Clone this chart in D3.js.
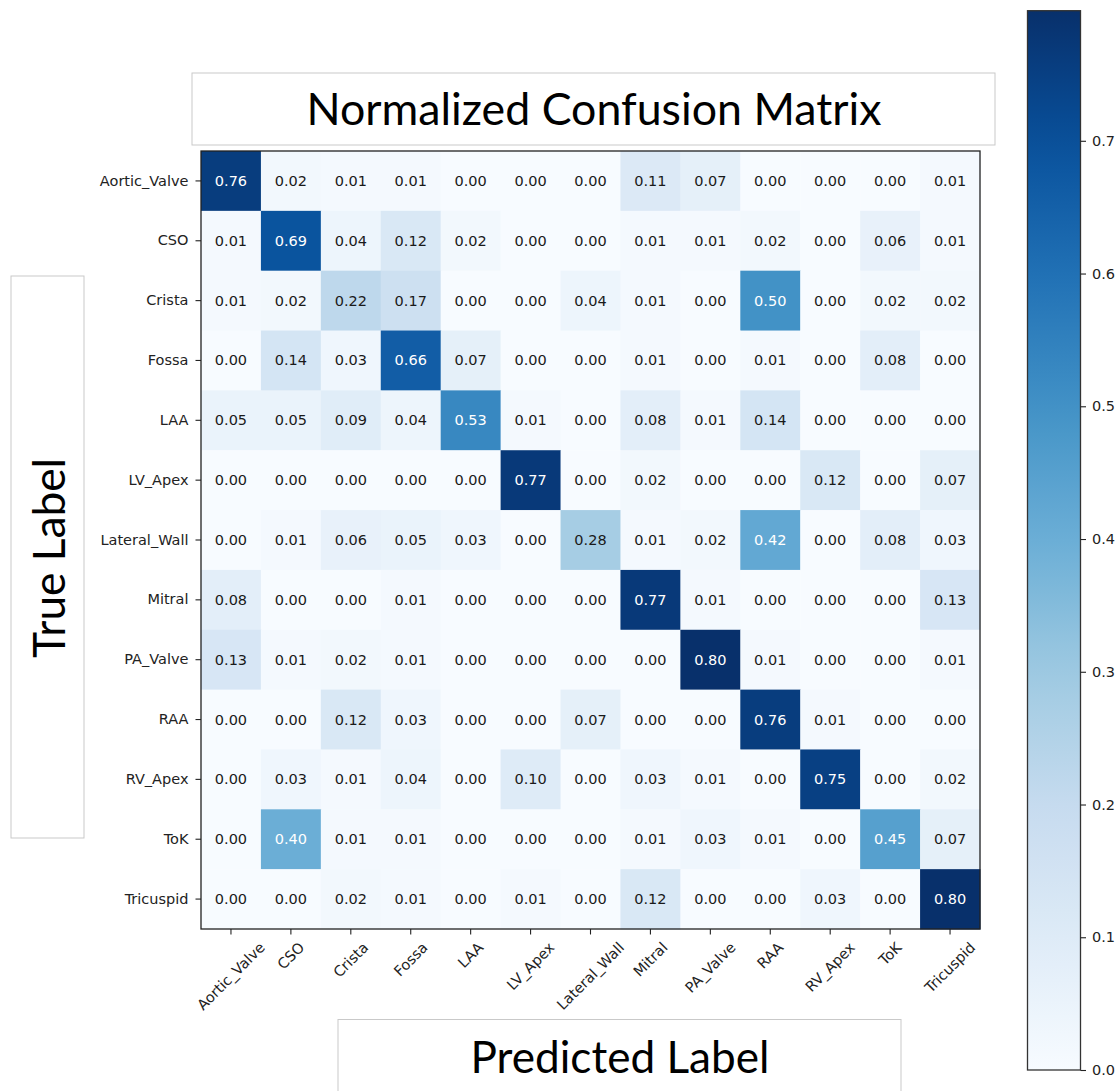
<!DOCTYPE html>
<html>
<head>
<meta charset="utf-8">
<script src="https://cdn.jsdelivr.net/npm/d3@7"></script>
<style>
  html, body { margin: 0; padding: 0; background: #fff; }
  svg { display: block; }
</style>
</head>
<body>
<svg id="chart" width="1119" height="1091"></svg>
<script>
// ---------------- data ----------------
const classes = ["Aortic_Valve","CSO","Crista","Fossa","LAA","LV_Apex","Lateral_Wall","Mitral","PA_Valve","RAA","RV_Apex","ToK","Tricuspid"];
const rowAorticValve = [0.76,0.02,0.01,0.01,0.00,0.00,0.00,0.11,0.07,0.00,0.00,0.00,0.01];
const rowCSO         = [0.01,0.69,0.04,0.12,0.02,0.00,0.00,0.01,0.01,0.02,0.00,0.06,0.01];
const rowCrista      = [0.01,0.02,0.22,0.17,0.00,0.00,0.04,0.01,0.00,0.50,0.00,0.02,0.02];
const rowFossa       = [0.00,0.14,0.03,0.66,0.07,0.00,0.00,0.01,0.00,0.01,0.00,0.08,0.00];
const rowLAA         = [0.05,0.05,0.09,0.04,0.53,0.01,0.00,0.08,0.01,0.14,0.00,0.00,0.00];
const rowLVApex      = [0.00,0.00,0.00,0.00,0.00,0.77,0.00,0.02,0.00,0.00,0.12,0.00,0.07];
const rowLateralWall = [0.00,0.01,0.06,0.05,0.03,0.00,0.28,0.01,0.02,0.42,0.00,0.08,0.03];
const rowMitral      = [0.08,0.00,0.00,0.01,0.00,0.00,0.00,0.77,0.01,0.00,0.00,0.00,0.13];
const rowPAValve     = [0.13,0.01,0.02,0.01,0.00,0.00,0.00,0.00,0.80,0.01,0.00,0.00,0.01];
const rowRAA         = [0.00,0.00,0.12,0.03,0.00,0.00,0.07,0.00,0.00,0.76,0.01,0.00,0.00];
const rowRVApex      = [0.00,0.03,0.01,0.04,0.00,0.10,0.00,0.03,0.01,0.00,0.75,0.00,0.02];
const rowToK         = [0.00,0.40,0.01,0.01,0.00,0.00,0.00,0.01,0.03,0.01,0.00,0.45,0.07];
const rowTricuspid   = [0.00,0.00,0.02,0.01,0.00,0.01,0.00,0.12,0.00,0.00,0.03,0.00,0.80];
const matrixRows = [rowAorticValve,rowCSO,rowCrista,rowFossa,rowLAA,rowLVApex,rowLateralWall,rowMitral,rowPAValve,rowRAA,rowRVApex,rowToK,rowTricuspid];
const colorbarTicks = [0.0,0.1,0.2,0.3,0.4,0.5,0.6,0.7];
const colorMax = 0.798;
const titleText = "Normalized Confusion Matrix";
const xLabelText = "Predicted Label";
const yLabelText = "True Label";

// ---------------- setup ----------------
const svg = d3.select("#chart");
const tickFont = "'DejaVu Sans', sans-serif";
const bigFont = "Lato, 'Open Sans', sans-serif";
const fs = 14.5;

const x = d3.scaleBand().domain(classes).range([201, 980]);
const y = d3.scaleBand().domain(classes).range([151, 929]);

// matplotlib "Blues" (linear segmented from ColorBrewer 9-class)
const bluesStops = ["#f7fbff","#deebf7","#c6dbef","#9ecae1","#6baed6","#4292c6","#2171b5","#08519c","#08306b"];
const color = d3.scaleLinear()
  .domain(bluesStops.map((_, i) => colorMax * i / (bluesStops.length - 1)))
  .range(bluesStops)
  .interpolate(d3.interpolateRgb)
  .clamp(true);

const cells = [];
matrixRows.forEach((row, i) => row.forEach((v, j) => cells.push({r: classes[i], c: classes[j], v})));

// ---------------- label boxes ----------------
const boxStroke = "#c9c9c9";
svg.append("rect").attr("x", 192).attr("y", 73).attr("width", 803).attr("height", 72)
  .attr("fill", "#fff").attr("stroke", boxStroke).attr("stroke-width", 1);
svg.append("text").attr("x", 594).attr("y", 125).attr("text-anchor", "middle")
  .attr("font-family", bigFont).attr("font-size", 44).attr("fill", "#000")
  .attr("textLength", 575).attr("lengthAdjust", "spacingAndGlyphs").text(titleText);

svg.append("rect").attr("x", 338).attr("y", 1019.5).attr("width", 563).attr("height", 90)
  .attr("fill", "#fff").attr("stroke", boxStroke).attr("stroke-width", 1);
svg.append("text").attr("x", 620).attr("y", 1073).attr("text-anchor", "middle")
  .attr("font-family", bigFont).attr("font-size", 44).attr("fill", "#000")
  .attr("textLength", 299).attr("lengthAdjust", "spacingAndGlyphs").text(xLabelText);

svg.append("rect").attr("x", 11).attr("y", 276).attr("width", 73).attr("height", 562)
  .attr("fill", "#fff").attr("stroke", boxStroke).attr("stroke-width", 1);
svg.append("text").attr("transform", "translate(65,558) rotate(-90)").attr("text-anchor", "middle")
  .attr("font-family", bigFont).attr("font-size", 44).attr("fill", "#000")
  .attr("textLength", 200).attr("lengthAdjust", "spacingAndGlyphs").text(yLabelText);

// ---------------- heatmap ----------------
const g = svg.append("g");
g.selectAll("rect.cell").data(cells).join("rect").attr("class", "cell")
  .attr("x", d => x(d.c)).attr("y", d => y(d.r))
  .attr("width", x.bandwidth() + 0.5).attr("height", y.bandwidth() + 0.5)
  .attr("fill", d => color(d.v));

g.selectAll("text.val").data(cells).join("text").attr("class", "val")
  .attr("x", d => x(d.c) + x.bandwidth() / 2)
  .attr("y", d => y(d.r) + y.bandwidth() / 2)
  .attr("text-anchor", "middle").attr("dominant-baseline", "central")
  .attr("font-family", tickFont).attr("font-size", fs)
  .attr("fill", d => d.v > colorMax / 2 ? "#ffffff" : "#1a1a1a")
  .text(d => d.v.toFixed(2));

// frame
svg.append("rect").attr("x", 201).attr("y", 151).attr("width", 779).attr("height", 778)
  .attr("fill", "none").attr("stroke", "#222").attr("stroke-width", 1.3);

// y axis
const yAx = svg.append("g").attr("transform", "translate(201,0)")
  .call(d3.axisLeft(y).tickSize(5.5).tickPadding(7));
yAx.select(".domain").remove();
yAx.selectAll("line").attr("stroke", "#222").attr("stroke-width", 1.1);
yAx.selectAll("text").attr("font-family", tickFont).attr("font-size", fs).attr("fill", "#222");

// x axis
const xAx = svg.append("g").attr("transform", "translate(0,929)")
  .call(d3.axisBottom(x).tickSize(5.5).tickPadding(0));
xAx.select(".domain").remove();
xAx.selectAll("line").attr("stroke", "#222").attr("stroke-width", 1.1);
xAx.selectAll("text")
  .attr("font-family", tickFont).attr("font-size", fs).attr("fill", "#222")
  .attr("text-anchor", "middle").attr("dominant-baseline", "central")
  .attr("dy", null).attr("y", null)
  .each(function() {
    const w = this.getComputedTextLength();
    const side = (w + fs * 1.15) * Math.SQRT1_2;
    const cy = 10 + side / 2;
    d3.select(this).attr("transform", `translate(0,${cy}) rotate(-45)`);
  });

// ---------------- colorbar ----------------
const cbX = 1027.5, cbW = 53;
const cy = d3.scaleLinear().domain([0, colorMax]).range([1070, 10.7]);
const defs = svg.append("defs");
const grad = defs.append("linearGradient").attr("id", "cbgrad")
  .attr("x1", 0).attr("y1", 1).attr("x2", 0).attr("y2", 0);
d3.range(0, 1.0001, 0.05).forEach(t => {
  grad.append("stop").attr("offset", t).attr("stop-color", color(t * colorMax));
});
svg.append("rect").attr("x", cbX).attr("y", cy(colorMax)).attr("width", cbW)
  .attr("height", cy(0) - cy(colorMax)).attr("fill", "url(#cbgrad)")
  .attr("stroke", "#333").attr("stroke-width", 1.3);

const cAx = svg.append("g").attr("transform", `translate(${cbX + cbW},0)`)
  .call(d3.axisRight(cy).tickValues(colorbarTicks).tickFormat(d3.format(".1f")).tickSize(5.5).tickPadding(6));
cAx.select(".domain").remove();
cAx.selectAll("line").attr("stroke", "#222").attr("stroke-width", 1.1);
cAx.selectAll("text").attr("font-family", tickFont).attr("font-size", fs).attr("fill", "#222");
</script>
</body>
</html>
